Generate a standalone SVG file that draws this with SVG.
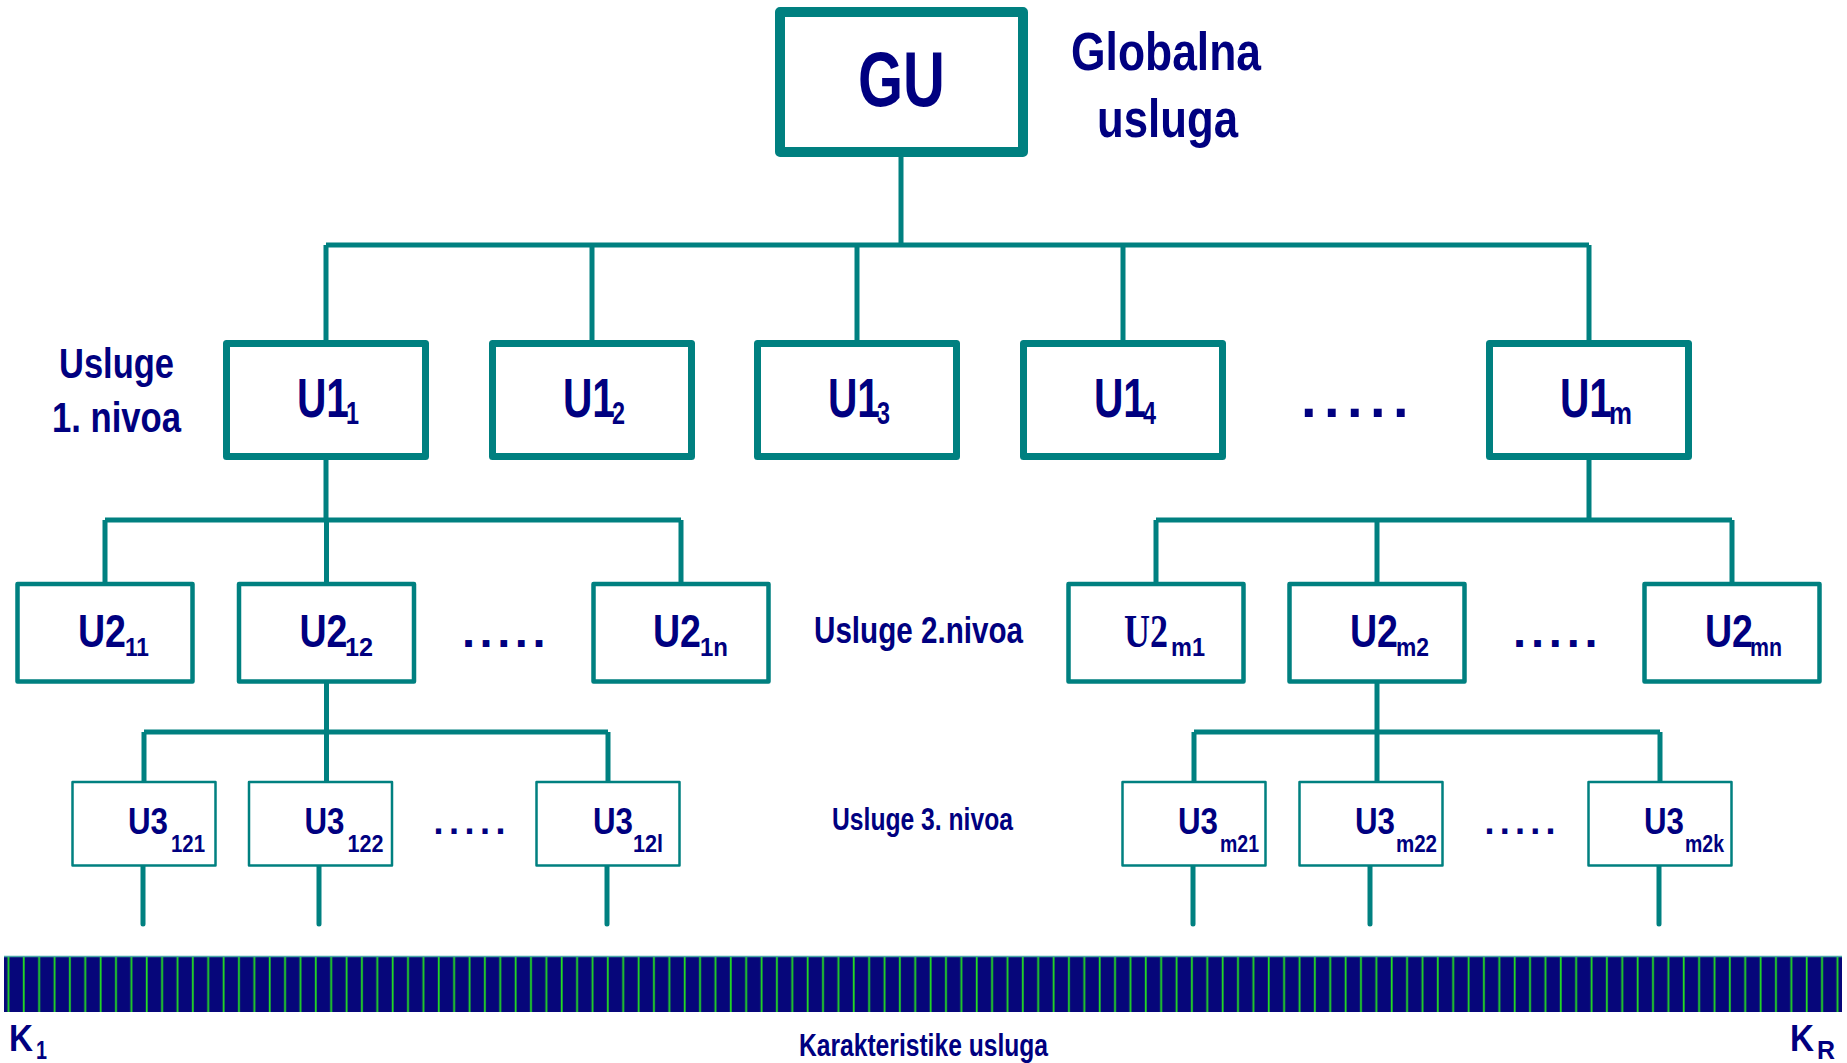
<svg xmlns="http://www.w3.org/2000/svg" width="1847" height="1063" viewBox="0 0 1847 1063">
<style>
.box{fill:#fff;stroke:#008080;stroke-linejoin:round}
.b0{stroke-width:10}
.b1{stroke-width:7}
.b2{stroke-width:4.5}
.b3{stroke-width:2.5}
.t{font-family:"Liberation Sans",Arial,sans-serif;font-weight:bold;fill:#000080}
.s{font-family:"Liberation Serif","Times New Roman",serif;font-weight:bold;fill:#000080}
.c{stroke:#008080;stroke-width:5;fill:none}
</style>
<defs>
<pattern id="stripes" patternUnits="userSpaceOnUse" x="0" y="0" width="15.37" height="60">
<rect x="0" y="0" width="15.37" height="60" fill="#06067a"/>
<rect x="7.5" y="0" width="1.8" height="60" fill="#22dd22"/>
</pattern>
</defs>
<rect width="1847" height="1063" fill="#fff"/>

<g id="connectors" class="c">
<path d="M901 152V245M326 245H1589M326 245V343.5M592 245V343.5M857 245V343.5M1123 245V343.5M1589 245V343.5"/>
<path d="M326 456.5V520M105 520H681M105 520V584M326.5 520V584M681 520V584"/>
<path d="M1589 456.5V520M1156 520H1732M1156 520V584M1377 520V584M1732 520V584"/>
<path d="M326.5 681.5V732M144 732H608M144 732V782M326.5 732V782M608 732V782"/>
<path d="M1377 681.5V732M1194 732H1660M1194 732V782M1377 732V782M1660 732V782"/>
<path stroke-linecap="round" d="M143 865.5V924M319 865.5V924M607 865.5V924M1193 865.5V924M1370 865.5V924M1659 865.5V924"/>
</g>

<g id="GU">
<rect class="box b0" x="780" y="12" width="243" height="140"/>
<text class="t" x="858" y="106" font-size="78" textLength="87" lengthAdjust="spacingAndGlyphs">GU</text>
</g>
<g id="label-global">
<text class="t" x="1071" y="70" font-size="53" textLength="190" lengthAdjust="spacingAndGlyphs">Globalna</text>
<text class="t" x="1097" y="137" font-size="53" textLength="141" lengthAdjust="spacingAndGlyphs">usluga</text>
</g>
<g id="label-l1">
<text class="t" x="59" y="378" font-size="42" textLength="115" lengthAdjust="spacingAndGlyphs">Usluge</text>
<text class="t" x="52" y="432" font-size="42" textLength="129" lengthAdjust="spacingAndGlyphs">1. nivoa</text>
</g>

<g id="U1_1">
<rect class="box b1" x="226.5" y="343.5" width="199" height="113"/>
<text class="t" x="297" y="417" font-size="56" textLength="52" lengthAdjust="spacingAndGlyphs">U1</text>
<text class="t" x="346" y="424" font-size="31" textLength="13" lengthAdjust="spacingAndGlyphs">1</text>
</g>
<g id="U1_2">
<rect class="box b1" x="492.5" y="343.5" width="199" height="113"/>
<text class="t" x="563" y="417" font-size="56" textLength="52" lengthAdjust="spacingAndGlyphs">U1</text>
<text class="t" x="612" y="424" font-size="31" textLength="13" lengthAdjust="spacingAndGlyphs">2</text>
</g>
<g id="U1_3">
<rect class="box b1" x="757.5" y="343.5" width="199" height="113"/>
<text class="t" x="828" y="417" font-size="56" textLength="52" lengthAdjust="spacingAndGlyphs">U1</text>
<text class="t" x="877" y="424" font-size="31" textLength="13" lengthAdjust="spacingAndGlyphs">3</text>
</g>
<g id="U1_4">
<rect class="box b1" x="1023.5" y="343.5" width="199" height="113"/>
<text class="t" x="1094" y="417" font-size="56" textLength="52" lengthAdjust="spacingAndGlyphs">U1</text>
<text class="t" x="1143" y="424" font-size="31" textLength="13" lengthAdjust="spacingAndGlyphs">4</text>
</g>
<g id="dots-l1">
<text class="t" y="417" font-size="56" x="1301 1324 1347 1370 1393">.....</text>
</g>
<g id="U1_m">
<rect class="box b1" x="1489.5" y="343.5" width="199" height="113"/>
<text class="t" x="1560" y="417" font-size="56" textLength="52" lengthAdjust="spacingAndGlyphs">U1</text>
<text class="t" x="1609" y="424" font-size="31" textLength="23" lengthAdjust="spacingAndGlyphs">m</text>
</g>

<g id="U2_11">
<rect class="box b2" x="17.5" y="584" width="175" height="97.5"/>
<text class="t" x="78" y="647" font-size="47" textLength="48" lengthAdjust="spacingAndGlyphs">U2</text>
<text class="t" x="125" y="656" font-size="26" textLength="24" lengthAdjust="spacingAndGlyphs">11</text>
</g>
<g id="U2_12">
<rect class="box b2" x="239" y="584" width="175" height="97.5"/>
<text class="t" x="299.5" y="647" font-size="47" textLength="48" lengthAdjust="spacingAndGlyphs">U2</text>
<text class="t" x="345" y="656" font-size="26" textLength="28" lengthAdjust="spacingAndGlyphs">12</text>
</g>
<g id="dots-l2a">
<text class="t" y="647" font-size="47" x="462 479.6 497.2 514.8 532.4">.....</text>
</g>
<g id="U2_1n">
<rect class="box b2" x="593.5" y="584" width="175" height="97.5"/>
<text class="t" x="653" y="647" font-size="47" textLength="48" lengthAdjust="spacingAndGlyphs">U2</text>
<text class="t" x="700" y="656" font-size="26" textLength="28" lengthAdjust="spacingAndGlyphs">1n</text>
</g>
<g id="label-l2">
<text class="t" x="814" y="643" font-size="36" textLength="209" lengthAdjust="spacingAndGlyphs">Usluge 2.nivoa</text>
</g>
<g id="U2_m1">
<rect class="box b2" x="1068.5" y="584" width="175" height="97.5"/>
<text class="s" x="1124" y="647" font-size="47" textLength="44" lengthAdjust="spacingAndGlyphs">U2</text>
<text class="t" x="1171" y="656" font-size="26" textLength="34" lengthAdjust="spacingAndGlyphs">m1</text>
</g>
<g id="U2_m2">
<rect class="box b2" x="1289.5" y="584" width="175" height="97.5"/>
<text class="t" x="1350" y="647" font-size="47" textLength="48" lengthAdjust="spacingAndGlyphs">U2</text>
<text class="t" x="1396" y="656" font-size="26" textLength="33" lengthAdjust="spacingAndGlyphs">m2</text>
</g>
<g id="dots-l2b">
<text class="t" y="647" font-size="47" x="1513 1530.9 1548.8 1566.7 1584.6">.....</text>
</g>
<g id="U2_mn">
<rect class="box b2" x="1644.5" y="584" width="175" height="97.5"/>
<text class="t" x="1705" y="647" font-size="47" textLength="48" lengthAdjust="spacingAndGlyphs">U2</text>
<text class="t" x="1750" y="656" font-size="26" textLength="32" lengthAdjust="spacingAndGlyphs">mn</text>
</g>

<g id="U3_121">
<rect class="box b3" x="72.5" y="782" width="143" height="83.5"/>
<text class="t" x="128" y="834" font-size="36" textLength="40" lengthAdjust="spacingAndGlyphs">U3</text>
<text class="t" x="171" y="852" font-size="24" textLength="34" lengthAdjust="spacingAndGlyphs">121</text>
</g>
<g id="U3_122">
<rect class="box b3" x="249" y="782" width="143" height="83.5"/>
<text class="t" x="304.5" y="834" font-size="36" textLength="40" lengthAdjust="spacingAndGlyphs">U3</text>
<text class="t" x="347.5" y="852" font-size="24" textLength="36" lengthAdjust="spacingAndGlyphs">122</text>
</g>
<g id="dots-l3a">
<text class="t" y="834" font-size="36" x="433.4 448.9 464.4 479.9 495.4">.....</text>
</g>
<g id="U3_12l">
<rect class="box b3" x="536.5" y="782" width="143" height="83.5"/>
<text class="t" x="593" y="834" font-size="36" textLength="40" lengthAdjust="spacingAndGlyphs">U3</text>
<text class="t" x="633" y="852" font-size="24" textLength="30" lengthAdjust="spacingAndGlyphs">12l</text>
</g>
<g id="label-l3">
<text class="t" x="832" y="830" font-size="31" textLength="181" lengthAdjust="spacingAndGlyphs">Usluge 3. nivoa</text>
</g>
<g id="U3_m21">
<rect class="box b3" x="1122.5" y="782" width="143" height="83.5"/>
<text class="t" x="1178" y="834" font-size="36" textLength="40" lengthAdjust="spacingAndGlyphs">U3</text>
<text class="t" x="1220" y="852" font-size="24" textLength="39" lengthAdjust="spacingAndGlyphs">m21</text>
</g>
<g id="U3_m22">
<rect class="box b3" x="1299.5" y="782" width="143" height="83.5"/>
<text class="t" x="1355" y="834" font-size="36" textLength="40" lengthAdjust="spacingAndGlyphs">U3</text>
<text class="t" x="1396" y="852" font-size="24" textLength="41" lengthAdjust="spacingAndGlyphs">m22</text>
</g>
<g id="dots-l3b">
<text class="t" y="834" font-size="36" x="1484.4 1499.7 1515 1530.3 1545.6">.....</text>
</g>
<g id="U3_m2k">
<rect class="box b3" x="1588.5" y="782" width="143" height="83.5"/>
<text class="t" x="1644" y="834" font-size="36" textLength="40" lengthAdjust="spacingAndGlyphs">U3</text>
<text class="t" x="1685" y="852" font-size="24" textLength="39" lengthAdjust="spacingAndGlyphs">m2k</text>
</g>

<g id="characteristics">
<rect x="4" y="956" width="1838" height="56" fill="url(#stripes)"/>
<line x1="4" y1="956.5" x2="1842" y2="956.5" stroke="#4aa8a8" stroke-width="1.5"/>
<text class="t" x="9" y="1051" font-size="37" textLength="24" lengthAdjust="spacingAndGlyphs">K</text>
<text class="t" x="36" y="1059" font-size="25" textLength="11" lengthAdjust="spacingAndGlyphs">1</text>
<text class="t" x="799" y="1056" font-size="32" textLength="249" lengthAdjust="spacingAndGlyphs">Karakteristike usluga</text>
<text class="t" x="1790" y="1051" font-size="37" textLength="24" lengthAdjust="spacingAndGlyphs">K</text>
<text class="t" x="1817" y="1059" font-size="25" textLength="18" lengthAdjust="spacingAndGlyphs">R</text>
</g>
</svg>
